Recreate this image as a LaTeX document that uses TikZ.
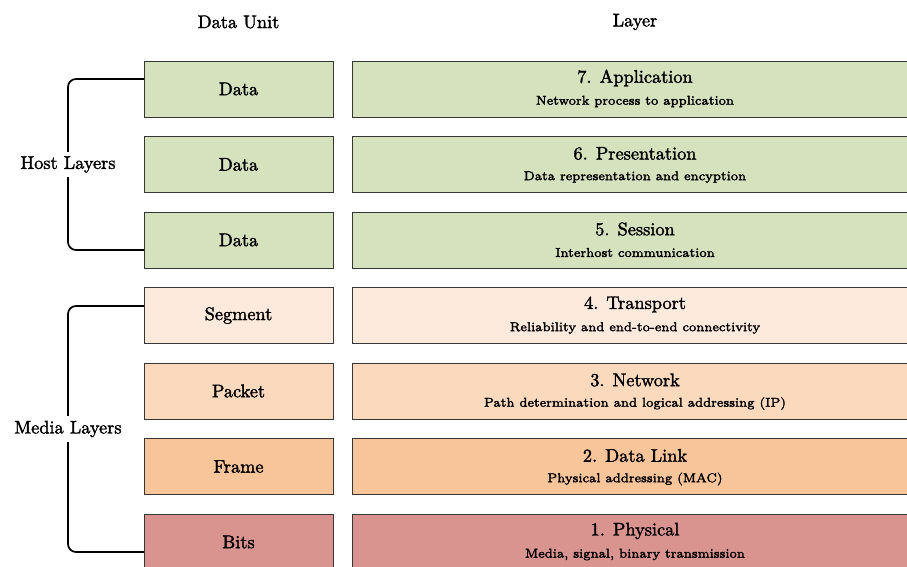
\documentclass[tikz,border=0pt]{standalone}
\usepackage{fontspec}
\usetikzlibrary{calc}

% slightly heavier Latin Modern faces at their 10pt and 7pt design sizes
\newfontfamily\lmtext{lmroman10-regular.otf}[FakeBold=1.8]
\newfontfamily\lmsmall{lmroman7-regular.otf}[FakeBold=2.4]

\definecolor{edge}{HTML}{363636}
\definecolor{hostfill}{HTML}{D6E1BE}
\definecolor{segfill}{HTML}{FDEADC}
\definecolor{pktfill}{HTML}{FAD9BD}
\definecolor{frmfill}{HTML}{F8C49A}
\definecolor{bitfill}{HTML}{D9948F}

\tikzset{
  box/.style={draw=edge, line width=0.9pt, inner sep=0pt, outer sep=0pt, minimum height=56pt},
  unitbox/.style={box, minimum width=189pt},
  layerbox/.style={box, minimum width=566pt},
  txt/.style={scale=1.83, transform shape, inner sep=0pt, font=\lmtext\fontsize{10}{12}\selectfont},
  subtxt/.style={txt, font=\lmsmall\fontsize{7}{8}\selectfont},
  bracket/.style={draw=black, line width=1.7pt, rounded corners=8pt},
  grouplabel/.style={txt, fill=white, inner xsep=0.5pt, inner ysep=2.5pt},
}

\begin{document}
\begin{tikzpicture}[x=1pt, y=-1pt]
  \useasboundingbox (0,0) rectangle (907,567);
  \clip (0,0) rectangle (907,567);

  % column headers
  \node[txt] (hunit) at (238.5,22) {Data Unit};
  \node[txt] (hlayer) at (635,22) {Layer};

  % data unit column
  \node[unitbox, fill=hostfill] (u7) at (238.5,89)    {};
  \node[unitbox, fill=hostfill] (u6) at (238.5,164.5) {};
  \node[unitbox, fill=hostfill] (u5) at (238.5,240)   {};
  \node[unitbox, fill=segfill]  (u4) at (238.5,315.5) {};
  \node[unitbox, fill=pktfill]  (u3) at (238.5,391)   {};
  \node[unitbox, fill=frmfill]  (u2) at (238.5,466.5) {};
  \node[unitbox, fill=bitfill]  (u1) at (238.5,542)   {};

  \node[txt] (ut7) at (u7) {Data};
  \node[txt] (ut6) at (u6) {Data};
  \node[txt] (ut5) at (u5) {Data};
  \node[txt] (ut4) at (u4) {Segment};
  \node[txt] (ut3) at (u3) {Packet};
  \node[txt] (ut2) at (u2) {Frame};
  \node[txt] (ut1) at (u1) {Bits};

  % layer column
  \node[layerbox, fill=hostfill] (l7) at (635,89)    {};
  \node[layerbox, fill=hostfill] (l6) at (635,164.5) {};
  \node[layerbox, fill=hostfill] (l5) at (635,240)   {};
  \node[layerbox, fill=segfill]  (l4) at (635,315.5) {};
  \node[layerbox, fill=pktfill]  (l3) at (635,391)   {};
  \node[layerbox, fill=frmfill]  (l2) at (635,466.5) {};
  \node[layerbox, fill=bitfill]  (l1) at (635,542)   {};

  \node[txt]    (t7) at ([yshift=11pt]l7.center)  {7. Application};
  \node[subtxt] (s7) at ([yshift=-12.5pt]l7.center) {Network process to application};
  \node[txt]    (t6) at ([yshift=11pt]l6.center)  {6. Presentation};
  \node[subtxt] (s6) at ([yshift=-12.5pt]l6.center) {Data representation and encyption};
  \node[txt]    (t5) at ([yshift=11pt]l5.center)  {5. Session};
  \node[subtxt] (s5) at ([yshift=-12.5pt]l5.center) {Interhost communication};
  \node[txt]    (t4) at ([yshift=11pt]l4.center)  {4. Transport};
  \node[subtxt] (s4) at ([yshift=-12.5pt]l4.center) {Reliability and end-to-end connectivity};
  \node[txt]    (t3) at ([yshift=11pt]l3.center)  {3. Network};
  \node[subtxt] (s3) at ([yshift=-12.5pt]l3.center) {Path determination and logical addressing (IP)};
  \node[txt]    (t2) at ([yshift=11pt]l2.center)  {2. Data Link};
  \node[subtxt] (s2) at ([yshift=-12.5pt]l2.center) {Physical addressing (MAC)};
  \node[txt]    (t1) at ([yshift=11pt]l1.center)  {1. Physical};
  \node[subtxt] (s1) at ([yshift=-12.5pt]l1.center) {Media, signal, binary transmission};

  % group brackets
  \coordinate (bx) at (68,0);
  \coordinate (htop) at ([yshift=10pt]u7.west);
  \coordinate (hbot) at ([yshift=-10pt]u5.west);
  \coordinate (mtop) at ([yshift=9.5pt]u4.west);
  \coordinate (mbot) at ([yshift=-10pt]u1.west);

  \draw[bracket] (htop) -| (bx |- hbot) -- (hbot);
  \draw[bracket] (mtop) -| (bx |- mbot) -- (mbot);

  \node[grouplabel] (host) at ($(bx |- htop)!0.5!(bx |- hbot)$) {Host Layers};
  \node[grouplabel] (media) at ($(bx |- mtop)!0.5!(bx |- mbot)$) {Media Layers};
\end{tikzpicture}
\end{document}
